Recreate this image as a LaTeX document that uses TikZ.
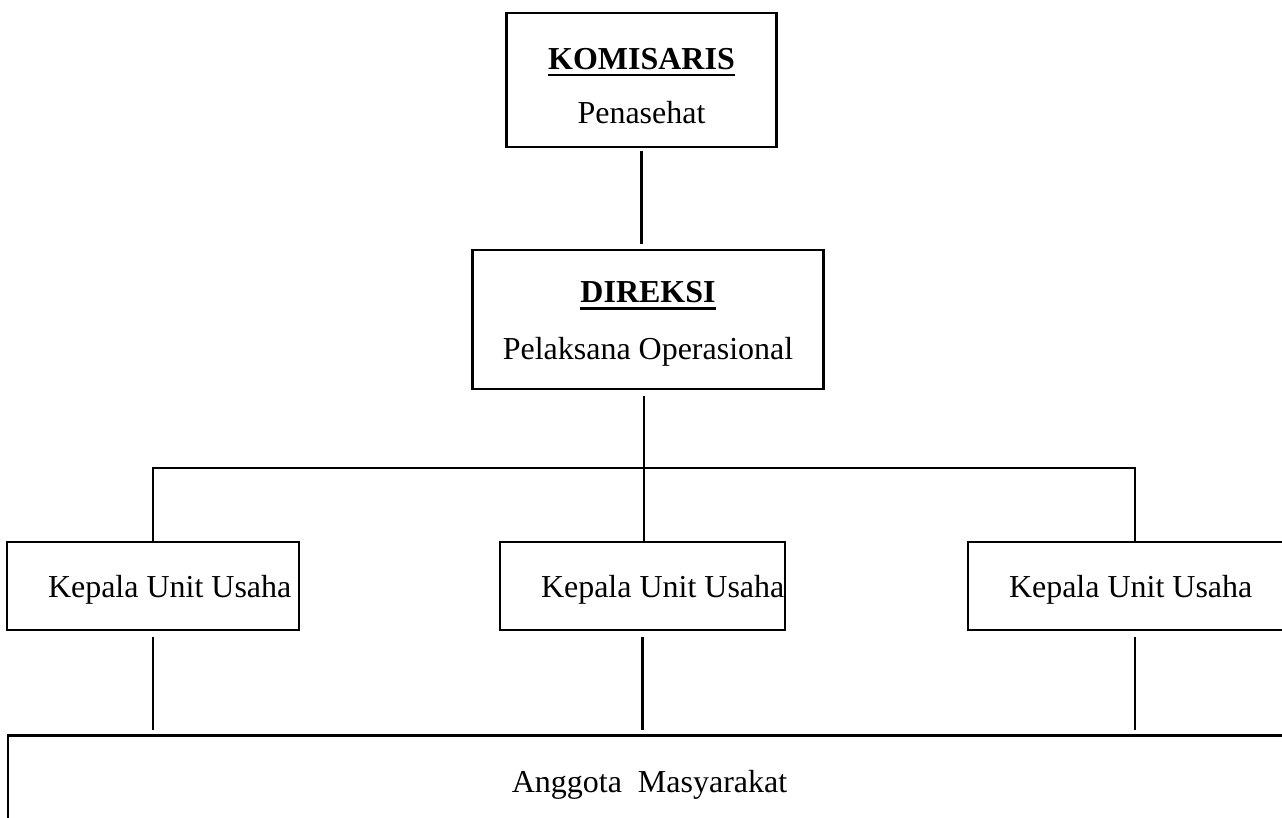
\documentclass[tikz,border=0pt]{standalone}
\usepackage{fontspec}
\setmainfont{Liberation Serif}
\usepackage{tikz}
\usetikzlibrary{positioning,calc}
\newcommand{\garisbawah}[1]{\setbox0\hbox{#1}\rlap{\rule[-4.2pt]{\wd0}{1.6pt}}\box0}
\newcommand{\isiunit}[2]{\makebox[#1][l]{\hspace*{0.82cm}#2}}
\tikzset{
  jabatan/.style={
    draw=black, fill=white, line width=1.2pt,
    minimum width=#1, align=center, inner sep=0pt,
    font=\fontsize{18.2}{31}\selectfont
  },
  unitbox/.style={
    draw=black, fill=white, line width=1.2pt, inner sep=0pt,
    minimum height=1.76cm, text depth=0pt,
    font=\fontsize{18.2}{22}\selectfont
  },
  garis/.style={draw=black, line width=1.2pt}
}
\begin{document}
\begin{tikzpicture}
  \useasboundingbox (0,0) rectangle (25.64,16.34);

  \node[jabatan=5.4cm, minimum height=2.68cm] (komisaris) at (12.83,14.74)
    {\rule{0pt}{18.8pt}\garisbawah{\textbf{KOMISARIS}}\\Penasehat};
  \node[jabatan=7.02cm, minimum height=2.78cm] (direksi) at (12.96,9.95)
    {\rule{0pt}{17pt}\garisbawah{\textbf{DIREKSI}}\\[1.5pt]Pelaksana Operasional};

  \node[unitbox] (unit1) at (3.06,4.62)  {\isiunit{5.84cm}{Kepala Unit Usaha}};
  \node[unitbox] (unit2) at (12.85,4.62) {\isiunit{5.7cm}{Kepala Unit Usaha}};
  \node[unitbox] (unit3) at (22.7,4.62)  {\isiunit{6.68cm}{Kepala Unit Usaha}};

  \node[unitbox, minimum width=25.66cm, minimum height=1.84cm]
    (anggota) at (12.99,0.71) {Anggota \ Masyarakat};

  \coordinate (bus) at (12.88,6.98);

  \draw[garis, shorten <=0.06cm, shorten >=0.1cm]
    (komisaris.south) -- (komisaris.south |- direksi.north);
  \draw[garis] ([yshift=-0.12cm]direksi.south -| bus) -- (bus);
  \draw[garis] (unit1.north) |- (bus) -| (unit3.north);
  \draw[garis] (bus) -- (bus |- unit2.north);

  \foreach \u in {unit1,unit2,unit3}
    \draw[garis, shorten <=0.12cm, shorten >=0.08cm]
      (\u.south) -- (\u.south |- anggota.north);
\end{tikzpicture}
\end{document}
